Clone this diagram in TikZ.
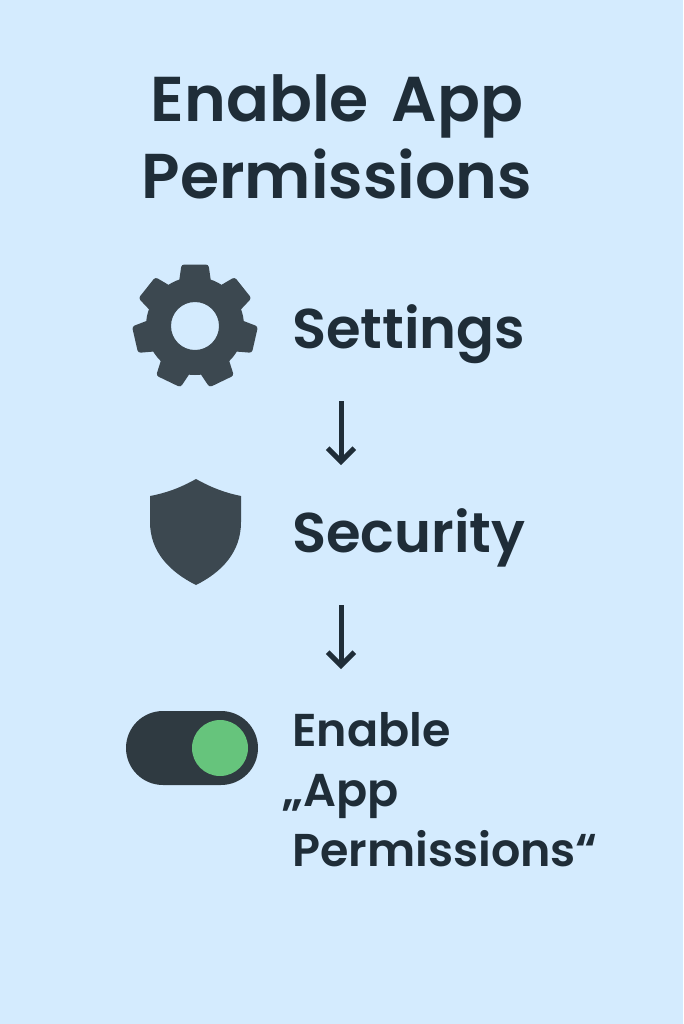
\documentclass[tikz,border=0pt]{standalone}
\usepackage{fontspec}
\setmainfont{Poppins SemiBold}
\usetikzlibrary{arrows.meta}
\definecolor{bgblue}{HTML}{D4EBFE}
\definecolor{textdark}{HTML}{1F2D38}
\definecolor{icongrey}{HTML}{3C4850}
\definecolor{toggledark}{HTML}{2F3A41}
\definecolor{knobgreen}{HTML}{66C47C}
\tikzset{
  titletext/.style={text=textdark, font=\fontsize{47.5}{58}\selectfont, align=center, inner sep=0pt},
  steptext/.style={text=textdark, font=\fontsize{42}{45}\selectfont, inner sep=0pt, anchor=base west},
  longtext/.style={text=textdark, font=\fontsize{34.5}{45}\selectfont, align=left, inner sep=0pt, anchor=base west},
  flowarrow/.style={draw=textdark, line width=3.75pt, -{Straight Barb[length=10pt,width=20pt,line width=3.75pt]}},
  iconfill/.style={fill=icongrey, draw=none},
}
\begin{document}
\begin{tikzpicture}[x=0.75pt, y=-0.75pt]
\fill[bgblue] (0,0) rectangle (683,1024);
\useasboundingbox (0,0) rectangle (683,1024);
\node[titletext] (title) at (337,137) {Enable\hspace{6pt} App\\Permissions};
% gear
\coordinate (gear) at (195,326);
\fill[iconfill, even odd rule] (gear) circle[radius=49] (gear) circle[radius=24];
\foreach \a in {0,51.43,...,350} {
  \fill[iconfill, rounded corners=2pt, shift={(gear)}, rotate=\a]
    (-16,-44)--(-13.5,-61.5)--(13.5,-61.5)--(16,-44)--cycle;
}
\node[steptext] (settings) at (292,348) {Settings};
% shield
\coordinate (shield) at (196,479);
\fill[iconfill] (shield) .. controls (212,488) and (226,493) .. (241,496)
  -- (241,522) .. controls (241,552) and (222,572) .. (196,585)
  .. controls (170,572) and (150,552) .. (150,522) -- (150,496)
  .. controls (166,493) and (180,488) .. (shield) -- cycle;
\node[steptext] (security) at (292,552) {Security};
% toggle
\node[fill=toggledark, rounded corners=37*0.75pt, minimum width=132*0.75pt, minimum height=74*0.75pt, inner sep=0pt] (toggle) at (192,748) {};
\node[circle, fill=knobgreen, minimum size=56*0.75pt, inner sep=0pt] (knob) at (220,748) {};
\node[longtext] (enable) at (292,866) {Enable\\\hspace{-7pt}„App\\Permissions“};
% arrows
\coordinate (a1) at (341,401);
\coordinate (b1) at (341,465);
\coordinate (a2) at (341,605);
\coordinate (b2) at (341,669);
\draw[flowarrow] (a1)--(b1);
\draw[flowarrow] (a2)--(b2);
\end{tikzpicture}
\end{document}
